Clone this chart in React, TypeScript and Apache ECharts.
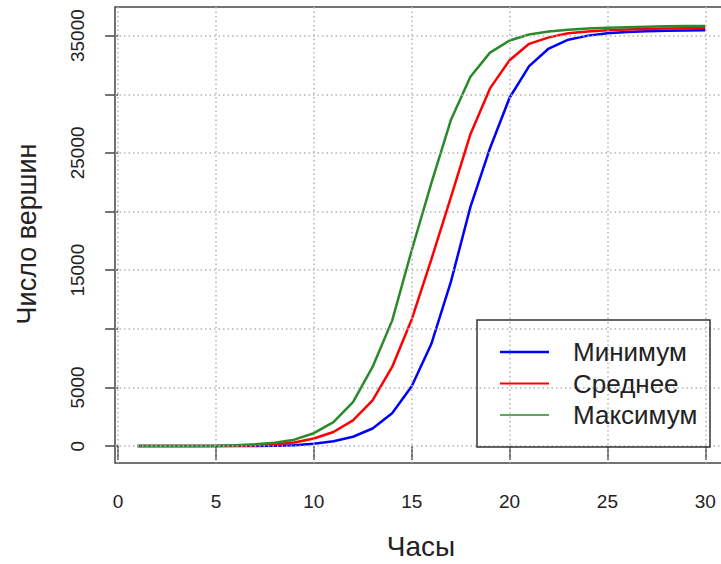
import React, { useEffect, useRef } from "react";
import * as echarts from "echarts";

const hours = [1, 2, 3, 4, 5, 6, 7, 8, 9, 10, 11, 12, 13, 14, 15, 16, 17, 18, 19, 20, 21, 22, 23, 24, 25, 26, 27, 28, 29, 30];
const minimum = [0, 0, 0, 0, 5, 10, 20, 35, 80, 200, 420, 800, 1500, 2800, 5100, 8700, 14000, 20400, 25400, 29700, 32400, 33900, 34650, 35000, 35200, 35300, 35370, 35410, 35430, 35450];
const mean = [0, 0, 5, 10, 20, 40, 80, 150, 300, 650, 1200, 2200, 3900, 6750, 10800, 15900, 21200, 26600, 30500, 32900, 34300, 34850, 35200, 35350, 35450, 35520, 35570, 35600, 35630, 35650];
const maximum = [0, 5, 10, 20, 40, 80, 150, 280, 550, 1100, 2050, 3750, 6750, 10700, 16700, 22400, 27800, 31500, 33550, 34580, 35090, 35350, 35500, 35600, 35680, 35720, 35760, 35790, 35810, 35830];

const seriesNames = ["Минимум", "Среднее", "Максимум"];
const seriesColors = ["#0000ff", "#ff0000", "#2a8a2a"];
const legendLineWidths = [2.5, 2, 1.5];

const xTicks = [0, 5, 10, 15, 20, 25, 30];
const yTicks = [0, 5000, 10000, 15000, 20000, 25000, 30000, 35000];
const yLabels = [0, 5000, 15000, 25000, 35000];

const xTitle = "Часы";
const yTitle = "Число вершин";

const FONT = "Liberation Sans, Arial, Helvetica, sans-serif";

export default function App() {
  const ref = useRef<HTMLDivElement>(null);
  useEffect(() => {
    if (!ref.current) return;
    const chart = echarts.init(ref.current, null, { renderer: "svg" });
    const values = [minimum, mean, maximum];
    const gridLines = [
      ...xTicks.map((v) => ({ xAxis: v })),
      ...yTicks.map((v) => ({ yAxis: v })),
    ];
    const legendX = 477, legendY = 320, legendW = 233, legendH = 127;
    const rowY = [352, 383.5, 415];
    const legendGraphics: any[] = [
      {
        type: "rect",
        shape: { x: legendX, y: legendY, width: legendW, height: legendH },
        style: { fill: "none", stroke: "#333", lineWidth: 1.5 },
        z: 10,
      },
    ];
    seriesNames.forEach((name, i) => {
      legendGraphics.push({
        type: "line",
        shape: { x1: 500, y1: rowY[i], x2: 549, y2: rowY[i] },
        style: { stroke: seriesColors[i], lineWidth: legendLineWidths[i] },
        z: 10,
      });
      legendGraphics.push({
        type: "text",
        x: 573,
        y: rowY[i],
        style: {
          text: name,
          fill: "#222",
          font: `26px ${FONT}`,
          textAlign: "left",
          textVerticalAlign: "middle",
        },
        z: 10,
      });
    });

    chart.setOption({
      animation: false,
      backgroundColor: "#ffffff",
      grid: {
        left: 115,
        top: 7,
        width: 613,
        height: 456,
        outerBoundsMode: "none",
        containLabel: false,
        show: true,
        borderColor: "#444",
        borderWidth: 1.5,
        backgroundColor: "transparent",
      },
      xAxis: {
        type: "value",
        min: -0.16,
        max: 31.16,
        axisLine: { show: false },
        splitLine: { show: false },
        axisTick: {
          show: true,
          customValues: xTicks,
          length: 14,
          lineStyle: { color: "#444", width: 1.5 },
        },
        axisLabel: {
          customValues: xTicks,
          margin: 29,
          color: "#222",
          fontSize: 19,
          fontFamily: FONT,
          formatter: (v: number) => String(v),
        },
      },
      yAxis: {
        type: "value",
        min: -1440,
        max: 37440,
        axisLine: { show: false },
        splitLine: { show: false },
        axisTick: {
          show: true,
          customValues: yTicks,
          length: 13,
          lineStyle: { color: "#444", width: 1.5 },
        },
        axisLabel: {
          customValues: yLabels,
          rotate: 90,
          margin: 28,
          color: "#222",
          fontSize: 19,
          fontFamily: FONT,
          formatter: (v: number) => String(v),
        },
      },
      series: [
        {
          type: "line",
          data: [],
          silent: true,
          z: 1,
          markLine: {
            silent: true,
            symbol: ["none", "none"],
            label: { show: false },
            lineStyle: { color: "#b4b4b4", type: [1.5, 3], width: 1.5 },
            data: gridLines,
          },
        },
        ...seriesNames.map((name, i) => ({
          name,
          type: "line",
          z: 3,
          showSymbol: false,
          symbol: "none",
          data: hours.map((h, j) => [h, values[i][j]]),
          lineStyle: { color: seriesColors[i], width: 2.5 },
          itemStyle: { color: seriesColors[i] },
        })),
      ],
      graphic: [
        {
          type: "text",
          x: 421,
          y: 546,
          style: {
            text: xTitle,
            fill: "#222",
            font: `28px ${FONT}`,
            textAlign: "center",
            textVerticalAlign: "middle",
          },
        },
        {
          type: "text",
          x: 27,
          y: 234,
          rotation: Math.PI / 2,
          style: {
            text: yTitle,
            fill: "#222",
            font: `27px ${FONT}`,
            textAlign: "center",
            textVerticalAlign: "middle",
          },
        },
        ...legendGraphics,
      ],
    });
    return () => chart.dispose();
  }, []);
  return (
    <div
      ref={ref}
      style={{ position: "fixed", left: 0, top: 0, width: 721, height: 564 }}
    />
  );
}
